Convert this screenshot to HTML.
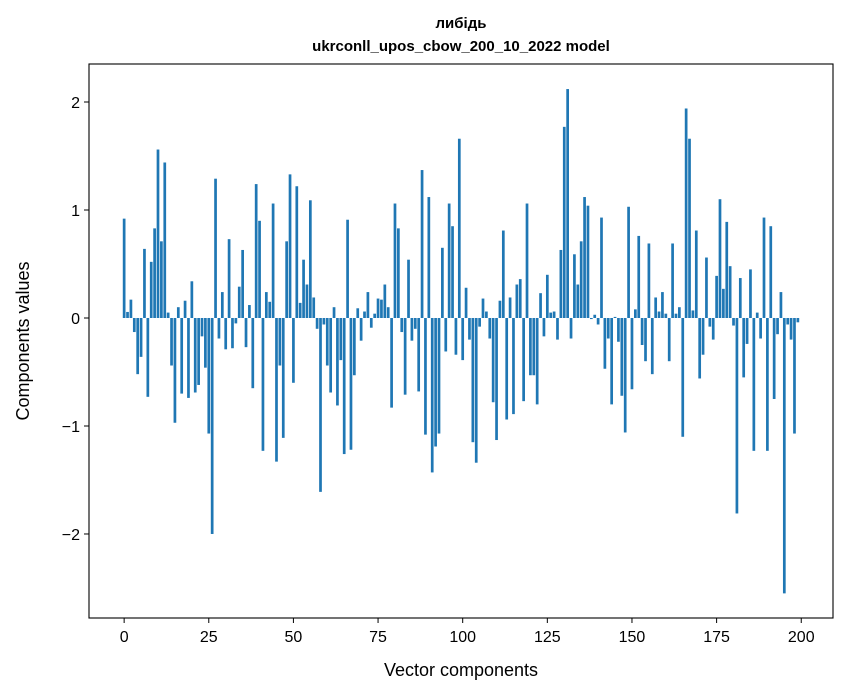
<!DOCTYPE html>
<html><head><meta charset="utf-8"><style>
body{margin:0;background:#fff;}
svg{display:block;font-family:"Liberation Sans","DejaVu Sans",sans-serif;}
</style></head><body>
<svg id="chart" width="847" height="696" viewBox="0 0 847 696" xmlns="http://www.w3.org/2000/svg">
<rect width="847" height="696" fill="#fff"/>
<text x="461" y="28" text-anchor="middle" font-size="15" font-weight="bold">либідь</text>
<text x="461" y="51" text-anchor="middle" font-size="15" font-weight="bold">ukrconll_upos_cbow_200_10_2022 model</text>
<g id="bars"></g>
<g id="axes"></g>
<text x="461" y="676" text-anchor="middle" font-size="18">Vector components</text>
<text transform="translate(29,341) rotate(-90)" text-anchor="middle" font-size="18">Components values</text>
</svg>
<script>
const values = [0.92,0.056,0.17,-0.13,-0.52,-0.36,0.64,-0.73,0.52,0.83,1.56,0.71,1.44,0.05,-0.44,-0.97,0.10,-0.70,0.16,-0.74,
0.34,-0.69,-0.62,-0.17,-0.46,-1.07,-2.0,1.29,-0.19,0.24,-0.29,0.73,-0.28,-0.05,0.29,0.63,-0.27,0.12,-0.65,1.24,
0.90,-1.23,0.24,0.15,1.06,-1.33,-0.44,-1.11,0.71,1.33,-0.60,1.22,0.14,0.54,0.31,1.09,0.19,-0.10,-1.61,-0.06,
-0.44,-0.69,0.10,-0.81,-0.39,-1.26,0.91,-1.22,-0.53,0.09,-0.21,0.06,0.24,-0.09,0.04,0.18,0.17,0.31,0.10,-0.83,
1.06,0.83,-0.13,-0.71,0.54,-0.21,-0.10,-0.68,1.37,-1.08,1.12,-1.43,-1.19,-1.07,0.65,-0.31,1.06,0.85,-0.34,1.66,
-0.39,0.28,-0.20,-1.15,-1.34,-0.08,0.18,0.06,-0.19,-0.78,-1.13,0.16,0.81,-0.94,0.19,-0.89,0.31,0.36,-0.77,1.06,
-0.53,-0.53,-0.80,0.23,-0.17,0.40,0.05,0.06,-0.20,0.63,1.77,2.12,-0.19,0.59,0.31,0.71,1.12,1.04,-0.01,0.03,
-0.06,0.93,-0.47,-0.19,-0.80,0.01,-0.22,-0.72,-1.06,1.03,-0.66,0.08,0.76,-0.25,-0.40,0.69,-0.52,0.19,0.06,0.24,
0.04,-0.40,0.69,0.04,0.10,-1.10,1.94,1.66,0.07,0.81,-0.56,-0.34,0.56,-0.08,-0.20,0.39,1.10,0.27,0.89,0.48,
-0.07,-1.81,0.37,-0.55,-0.24,0.45,-1.23,0.05,-0.19,0.93,-1.23,0.85,-0.75,-0.15,0.24,-2.55,-0.06,-0.20,-1.07,-0.04];
const xTicks = [0,25,50,75,100,125,150,175,200];
const yTicks = [-2,-1,0,1,2];
const NS="http://www.w3.org/2000/svg";
const L=89,R=833,T=64,B=618;
const xMin=-10.38,xMax=209.38,yMin=-2.778,yMax=2.352;
const xs=v=>L+(v-xMin)/(xMax-xMin)*(R-L);
const ys=v=>B-(v-yMin)/(yMax-yMin)*(B-T);
const bars=document.getElementById('bars');
values.forEach((v,i)=>{
  const r=document.createElementNS(NS,'rect');
  const x0=xs(i-0.4),x1=xs(i+0.4);
  const y0=ys(Math.max(v,0)),y1=ys(Math.min(v,0));
  r.setAttribute('x',x0);r.setAttribute('width',x1-x0);
  r.setAttribute('y',y0);r.setAttribute('height',Math.max(y1-y0,0.5));
  r.setAttribute('fill','#1f77b4');
  
  
  bars.appendChild(r);
});
const ax=document.getElementById('axes');
const fr=document.createElementNS(NS,'rect');
fr.setAttribute('x',L);fr.setAttribute('y',T);fr.setAttribute('width',R-L);fr.setAttribute('height',B-T);
fr.setAttribute('fill','none');fr.setAttribute('stroke','#000');fr.setAttribute('stroke-width','1.1');


ax.appendChild(fr);
xTicks.forEach(t=>{
  const x=xs(t);
  const l=document.createElementNS(NS,'line');
  l.setAttribute('x1',x);l.setAttribute('x2',x);l.setAttribute('y1',B);l.setAttribute('y2',B+5);l.setAttribute('stroke','#000');
  
  
  ax.appendChild(l);
  const tx=document.createElementNS(NS,'text');
  tx.setAttribute('x',x);tx.setAttribute('y',B+24);tx.setAttribute('text-anchor','middle');tx.setAttribute('font-size','16');
  tx.textContent=t;
  
  
  ax.appendChild(tx);
});
yTicks.forEach(t=>{
  const y=ys(t);
  const l=document.createElementNS(NS,'line');
  l.setAttribute('x1',L-5);l.setAttribute('x2',L);l.setAttribute('y1',y);l.setAttribute('y2',y);l.setAttribute('stroke','#000');
  
  
  ax.appendChild(l);
  const tx=document.createElementNS(NS,'text');
  tx.setAttribute('x',L-9);tx.setAttribute('y',y+6);tx.setAttribute('text-anchor','end');tx.setAttribute('font-size','16');
  tx.textContent=t<0?'\u2212'+Math.abs(t):String(t);
  
  
  ax.appendChild(tx);
});
</script>
</body></html>
